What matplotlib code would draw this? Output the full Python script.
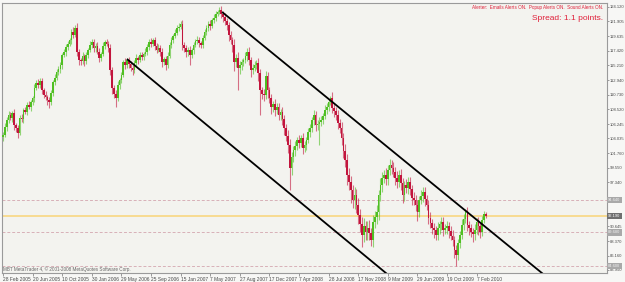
import matplotlib
matplotlib.use("Agg")
import matplotlib.pyplot as plt
from matplotlib.patches import Rectangle
from matplotlib.transforms import blended_transform_factory

# ---------------- data (USD/JPY weekly) ----------------
first_open = 104.3
closes = [
    104.6, 105.8, 106.9, 107.6, 107.2, 107.9, 106.1, 105.6, 104.9, 107.2,
    107.0, 108.4, 108.1, 109.2, 108.8, 109.6, 110.2, 111.8, 112.5, 112.2,
    112.8, 111.4, 110.7, 110.3, 109.9, 109.6, 111.0, 112.7, 113.3, 114.2,
    114.6, 115.3, 116.8, 117.2, 118.0, 118.4, 119.1, 120.3, 119.8, 120.9,
    117.2, 116.0, 115.8, 116.6, 115.9, 116.8, 117.6, 118.3, 118.8, 117.9,
    118.2, 117.3, 116.3, 117.0, 118.2, 118.7, 118.5, 117.8, 114.5, 111.8,
    110.9, 110.2, 112.2, 112.9, 113.7, 115.7, 115.2, 116.0, 115.4, 114.8,
    114.5, 115.6, 116.3, 116.0, 116.8, 116.5, 117.0, 117.3, 118.0, 118.8,
    118.5, 119.1, 118.2, 117.6, 117.9, 117.3, 115.7, 116.2, 115.3, 116.6,
    118.3, 119.1, 119.7, 120.2, 120.9, 121.1, 121.5, 118.3, 117.8, 117.2,
    117.6, 116.8, 117.5, 118.3, 118.9, 119.1, 118.6, 118.3, 119.4, 120.3,
    120.9, 121.5, 121.2, 122.1, 122.5, 123.1, 123.4, 123.7, 123.0, 122.6,
    122.0, 121.4, 119.8, 119.1, 118.3, 115.7, 116.4, 114.8, 115.2, 115.7,
    116.0, 116.6, 117.3, 116.1, 114.5, 114.8, 115.3, 115.6, 114.0, 111.4,
    110.9, 110.7, 113.6, 111.4, 110.2, 108.8, 109.3, 108.4, 108.9, 107.6,
    108.1, 107.0, 105.6, 104.4, 103.0, 99.5, 101.2, 102.3, 102.9, 103.8,
    103.4, 104.1, 102.6, 103.0, 103.8, 105.0, 105.6, 106.8, 107.6, 106.1,
    106.3, 106.6, 106.9, 107.5, 108.4, 108.9, 109.6, 110.2, 108.7, 108.2,
    107.6, 106.4, 105.6, 104.1, 102.2, 100.8, 98.5, 97.4, 96.2, 94.7,
    95.4, 93.9, 92.4, 91.0, 89.3, 90.6, 89.8, 90.4, 89.6, 88.5,
    91.3, 92.0, 92.8, 95.4, 97.0, 98.0, 98.5, 97.9, 99.2, 100.0,
    99.6, 98.9, 98.0, 97.4, 98.5, 97.2, 95.4, 96.9, 96.5, 97.4,
    96.3, 95.0, 94.7, 93.9, 92.8, 94.7, 95.2, 95.9, 94.8, 93.9,
    91.9, 91.2, 90.4, 90.0, 89.3, 90.4, 90.9, 91.3, 90.1, 90.3,
    90.7, 89.9, 89.2, 88.5, 87.0, 86.3, 88.0, 89.3, 90.8, 91.8,
    92.8, 90.8, 90.3, 89.8, 89.5, 90.1, 91.3, 90.6, 89.8, 91.6, 92.5, 92.2,
]
upper_wick = [
    0.5, 0.6, 0.4, 0.7, 0.5, 0.4, 0.6, 0.3, 0.5, 0.4,
    0.6, 0.3, 0.5, 0.4, 0.6, 0.3, 0.4, 0.5, 0.4, 0.6,
    0.4, 0.5, 0.3, 0.6, 0.4, 0.5, 0.4, 0.3, 0.6, 0.4,
    0.5, 0.4, 0.3, 0.5, 0.4, 0.6, 0.3, 0.5, 0.7, 0.5,
    0.8, 0.5, 0.4, 0.6, 0.4, 0.5, 0.3, 0.6, 0.4, 0.5,
    0.4, 0.6, 0.5, 0.3, 0.5, 0.4, 0.6, 0.4, 0.7, 0.5,
    0.4, 0.5, 0.6, 0.4, 0.5, 0.3, 0.6, 0.4, 0.5, 0.4,
    0.5, 0.4, 0.6, 0.3, 0.5, 0.4, 0.3, 0.6, 0.4, 0.5,
    0.6, 0.3, 0.5, 0.4, 0.6, 0.4, 0.5, 0.3, 0.4, 0.6,
    0.4, 0.5, 0.3, 0.6, 0.4, 0.5, 0.5, 0.6, 0.4, 0.5,
    0.4, 0.6, 0.3, 0.5, 0.4, 0.6, 0.5, 0.3, 0.4, 0.5,
    0.4, 0.5, 0.6, 0.3, 0.5, 0.4, 0.3, 0.4, 0.6, 0.5,
    0.6, 0.4, 0.5, 0.7, 0.4, 0.9, 0.5, 0.8, 0.6, 0.5,
    0.4, 0.6, 0.5, 0.7, 0.4, 0.6, 0.5, 0.4, 0.8, 0.6,
    0.5, 0.7, 0.8, 0.6, 0.5, 0.6, 0.4, 0.7, 0.5, 0.6,
    0.5, 0.8, 0.6, 0.7, 0.9, 1.0, 0.7, 0.6, 0.8, 0.5,
    0.7, 0.5, 0.8, 0.6, 0.5, 0.7, 0.6, 0.5, 0.8, 0.6,
    0.5, 0.7, 0.6, 0.5, 0.8, 0.6, 0.5, 0.4, 0.9, 0.6,
    0.7, 0.8, 0.6, 0.9, 0.7, 1.0, 0.8, 1.1, 0.9, 0.8,
    1.2, 0.9, 1.0, 0.8, 1.1, 1.3, 0.9, 1.0, 1.2, 0.8,
    1.0, 0.9, 1.1, 0.8, 1.0, 0.9, 0.7, 1.0, 0.8, 0.9,
    0.7, 0.9, 0.8, 1.0, 0.7, 0.9, 0.8, 0.6, 0.9, 0.7,
    0.8, 0.6, 0.9, 0.7, 0.8, 0.6, 0.9, 0.7, 0.8, 0.6,
    0.7, 0.9, 0.6, 0.8, 0.7, 0.9, 0.6, 0.8, 0.7, 0.6,
    0.8, 0.6, 0.7, 0.9, 0.6, 0.8, 0.7, 0.6, 0.9, 0.7,
    0.5, 0.8, 0.6, 0.7, 0.5, 0.8, 0.6, 0.7, 0.5, 0.6, 0.4, 0.3,
]
lower_wick = [
    0.7, 0.4, 0.6, 0.5, 0.4, 0.6, 0.8, 0.5, 0.8, 0.4,
    0.5, 0.6, 0.4, 0.5, 0.3, 0.5, 0.4, 0.6, 0.3, 0.5,
    0.4, 0.6, 0.5, 0.4, 0.7, 0.9, 0.5, 0.4, 0.5, 0.3,
    0.4, 0.5, 0.6, 0.3, 0.5, 0.4, 0.3, 0.6, 0.4, 0.3,
    0.5, 0.7, 0.6, 0.4, 0.8, 0.5, 0.4, 0.3, 0.5, 0.6,
    0.7, 0.4, 0.6, 0.5, 0.3, 0.5, 0.4, 0.6, 0.8, 0.9,
    0.7, 1.4, 0.5, 0.6, 0.4, 0.3, 0.5, 0.4, 0.6, 0.5,
    0.8, 0.4, 0.5, 0.6, 0.3, 0.5, 0.4, 0.3, 0.5, 0.4,
    0.5, 0.4, 0.6, 0.5, 0.3, 0.6, 0.7, 0.4, 0.8, 0.5,
    0.3, 0.4, 0.5, 0.3, 0.4, 0.5, 0.3, 0.8, 0.6, 0.7,
    0.5, 1.5, 0.4, 0.5, 0.3, 0.4, 0.6, 0.5, 0.4, 0.3,
    0.4, 0.5, 0.6, 0.3, 0.4, 0.5, 0.4, 0.3, 0.6, 0.7,
    0.6, 0.8, 0.9, 0.7, 1.0, 1.3, 0.8, 3.3, 0.9, 0.7,
    0.6, 0.5, 0.7, 0.9, 1.0, 0.6, 0.5, 0.7, 1.2, 3.8,
    0.9, 1.0, 0.7, 1.2, 0.8, 1.0, 0.7, 0.9, 0.6, 0.8,
    0.7, 0.9, 1.0, 0.8, 1.2, 3.3, 1.0, 0.7, 0.9, 0.6,
    0.8, 0.7, 1.0, 0.6, 0.7, 0.5, 0.8, 0.6, 0.7, 0.9,
    0.8, 3.3, 0.6, 0.7, 0.5, 0.6, 0.7, 0.5, 0.8, 0.9,
    0.7, 0.9, 0.8, 1.0, 1.2, 1.1, 1.5, 1.2, 2.0, 1.3,
    1.5, 1.2, 1.4, 1.3, 1.8, 1.0, 1.2, 1.3, 1.0, 0.9,
    1.1, 0.9, 1.0, 1.2, 0.9, 1.1, 0.8, 1.0, 0.9, 0.7,
    1.0, 0.8, 1.1, 0.9, 0.8, 1.0, 1.2, 0.9, 0.8, 1.0,
    0.9, 1.1, 0.8, 1.0, 1.3, 0.8, 0.7, 0.9, 1.0, 0.8,
    1.0, 0.8, 0.9, 1.1, 0.8, 0.7, 0.9, 0.8, 1.0, 0.7,
    0.8, 1.0, 0.7, 0.9, 1.2, 1.8, 0.8, 0.7, 0.6, 0.8,
    0.7, 0.9, 1.0, 0.8, 1.2, 0.9, 0.7, 1.3, 1.0, 0.6, 0.5, 0.3,
]

date_labels = ["28 Feb 2005", "20 Jun 2005", "10 Oct 2005", "30 Jan 2006",
               "29 May 2006", "25 Sep 2006", "15 Jan 2007", "7 May 2007",
               "27 Aug 2007", "17 Dec 2007", "7 Apr 2008", "28 Jul 2008",
               "17 Nov 2008", "9 Mar 2009", "29 Jun 2009", "19 Oct 2009",
               "7 Feb 2010"]
bars_per_label = 16
price_ticks = [124.120, 121.905, 119.635, 117.420, 115.210, 112.940, 110.730,
               108.520, 106.245, 104.035, 101.760, 99.550, 97.340, 90.645,
               88.370, 86.160, 83.950]
level_lines = [94.640, 89.680, 84.600]
bid_price = 92.190
trend_upper = [(118.4, 123.36), (288.6, 84.11)]
trend_lower = [(67.0, 116.18), (198.4, 85.49)]

# ---------------- figure ----------------
W, H = 625, 282
fam = ["Liberation Sans", "DejaVu Sans"]
fig = plt.figure(figsize=(W / 100, H / 100), dpi=100)
fig.patch.set_facecolor("#f7f7f5")
ax = fig.add_axes([2 / W, 1 - 273 / H, 605 / W, 270 / H])
ax.set_facecolor("#f3f3ef")
for s in ax.spines.values():
    s.set_color("#9a9a9a")
    s.set_linewidth(0.8)

px_per_bar = 1.85
x0 = -1.0 / px_per_bar
ax.set_xlim(x0, x0 + 605 / px_per_bar)
ax.set_ylim(83.49, 124.73)

# dashed price levels
for lv in level_lines:
    ax.axhline(lv, color="#d8b0b8", lw=0.7, ls=(0, (3, 2)), zorder=1)
# bid line
ax.axhline(bid_price, color="#f8d98a", lw=1.3, zorder=1)

# candles
up_c, dn_c = "#4fbf22", "#c2153d"
opens = [first_open] + closes[:-1]
for i, (o, c, uw, lw_) in enumerate(zip(opens, closes, upper_wick, lower_wick)):
    col = up_c if c >= o else dn_c
    hi = max(o, c) + uw
    lo = min(o, c) - lw_
    ax.vlines(i, lo, hi, color=col, lw=0.8, alpha=0.6, zorder=2)
    bh = max(abs(c - o), 0.1)
    ax.add_patch(Rectangle((i - 0.45, min(o, c)), 0.9, bh, facecolor=col,
                           edgecolor="none", zorder=3))

# trend lines (rays)
for (xa, ya), (xb, yb) in (trend_upper, trend_lower):
    slope = (yb - ya) / (xb - xa)
    xe = xa + (70 - ya) / slope
    ax.plot([xa, xe], [ya, 70], color="black", lw=1.3, zorder=4,
            solid_capstyle="butt")

# axes ticks
ax.yaxis.tick_right()
ax.set_yticks(price_ticks)
ax.set_yticklabels([f"{p:.3f}" for p in price_ticks], family=fam)
ax.tick_params(axis="y", length=1.5, width=0.6, color="#8a8a8a", pad=0.6,
               labelsize=3.0, labelcolor="#4a4a4a")
xt = [k * bars_per_label for k in range(len(date_labels))]
ax.set_xticks(xt)
ax.set_xticklabels(date_labels, family=fam)
ax.tick_params(axis="x", length=2, width=0.6, color="#8a8a8a", pad=1.0,
               labelsize=3.5, labelcolor="#4a4a4a")
for t in ax.get_xticklabels():
    t.set_horizontalalignment("left")

# boxes on price axis
bt = blended_transform_factory(ax.transAxes, ax.transData)
for lv in level_lines:
    ax.text(1.002, lv, f"{lv:.3f}", transform=bt, fontsize=2.9, color="#f0f0f0",
            va="center", ha="left", clip_on=False, family=fam,
            bbox=dict(boxstyle="square,pad=0.3", fc="#a9a9a9", ec="none"))
ax.text(1.002, bid_price, f"{bid_price:.3f}", transform=bt, fontsize=2.9,
        color="white", va="center", ha="left", clip_on=False, family=fam,
        bbox=dict(boxstyle="square,pad=0.3", fc="#6f6f6f", ec="none"))

# texts
fig.text(603 / W, 1 - 7 / H,
         "Alerter:  Emails Alerts ON.  Popup Alerts ON.  Sound Alerts ON.",
         ha="right", va="center", fontsize=3.3, color="#e0203a", family=fam)
fig.text(603 / W, 1 - 18 / H, "Spread: 1.1 points.", ha="right", va="center",
         fontsize=6.0, color="#e0203a", family=fam)
fig.text(3 / W, 1 - 269 / H,
         "MBT MetaTrader 4, \u00a9 2001-2008 MetaQuotes Software Corp.",
         ha="left", va="center", fontsize=3.3, color="#666666", family=fam)

fig.savefig("out.png", dpi=100, facecolor=fig.get_facecolor())
